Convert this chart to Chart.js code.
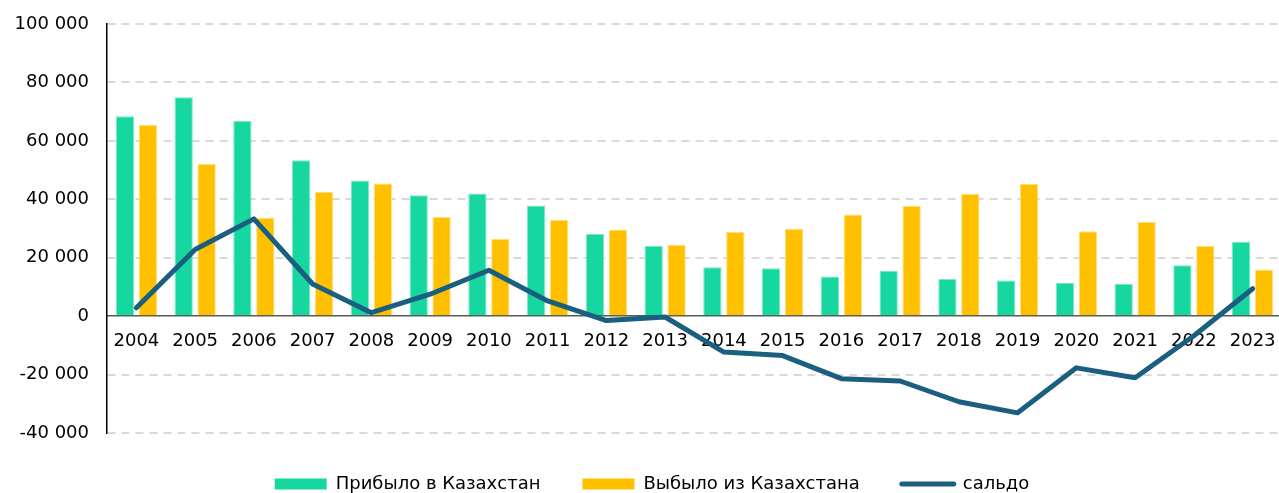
<!DOCTYPE html>
<html lang="ru">
<head>
<meta charset="utf-8">
<script src="https://cdn.jsdelivr.net/npm/chart.js@4"></script>
<style>
  html, body { margin: 0; padding: 0; background: #fff; overflow: hidden; }
  #wrap { width: 1282px; height: 503px; position: relative; }
</style>
</head>
<body>
<div id="wrap"><canvas id="migrationChart"></canvas></div>
<script>
// Годы
const years = ['2004', '2005', '2006', '2007', '2008', '2009', '2010', '2011', '2012', '2013',
               '2014', '2015', '2016', '2017', '2018', '2019', '2020', '2021', '2022', '2023'];

// Прибыло в Казахстан
const arrived = [68400, 74900, 66800, 53400, 46400, 41400, 42000, 37900, 28200, 24100,
                 16700, 16400, 13600, 15500, 12700, 12200, 11400, 11100, 17400, 25500];

// Выбыло из Казахстана
const departed = [65500, 52200, 33700, 42600, 45400, 33900, 26500, 33000, 29700, 24400,
                  28900, 29900, 34800, 37800, 41900, 45300, 29100, 32300, 24100, 16000];

// Сальдо миграции
const saldo = [2900, 22800, 33300, 11000, 1200, 7500, 15700, 5200, -1500, -300,
               -12300, -13500, -21400, -22200, -29300, -33100, -17700, -21100, -6700, 9400];

// Границы оси Y
const yMin = -40000;
const yMax = 100000;
const yStep = 20000;

const font = { family: "'DejaVu Sans', Verdana, sans-serif", size: 18 };

// Формат чисел: пробел как разделитель тысяч
function fmt(v) {
    return String(v).replace(/\B(?=(\d{3})+(?!\d))/g, ' ');
}

// Сдвиг легенды немного вправо
const legendShift = {
    id: 'legendShift',
    afterLayout: function (chart) {
        chart.legend.left += 10;
    },
};

const ctx = document.getElementById('migrationChart').getContext('2d');

const myChart = new Chart(ctx, {
    data: {
        labels: years,
        datasets: [
            {
                type: 'bar',
                label: 'Прибыло в Казахстан',
                data: arrived,
                backgroundColor: '#17d7a0',
                borderColor: '#7fe8c8',
                borderWidth: 1,
                categoryPercentage: 0.78,
                barPercentage: 0.8,
                order: 2,
            },
            {
                type: 'bar',
                label: 'Выбыло из Казахстана',
                data: departed,
                backgroundColor: '#ffc000',
                borderColor: '#ffdf80',
                borderWidth: 1,
                categoryPercentage: 0.78,
                barPercentage: 0.8,
                order: 2,
            },
            {
                type: 'line',
                label: 'сальдо',
                data: saldo,
                borderColor: '#1a5e80',
                backgroundColor: '#1a5e80',
                borderWidth: 5,
                pointRadius: 0,
                tension: 0,
                borderCapStyle: 'round',
                borderJoinStyle: 'round',
                order: 1,
            },
        ],
    },
    plugins: [legendShift],
    options: {
        responsive: true,
        maintainAspectRatio: false,
        animation: false,
        layout: {
            padding: { top: 24, left: 12, right: 0, bottom: 0 },
        },
        plugins: {
            tooltip: { enabled: false },
            legend: {
                position: 'bottom',
                labels: {
                    font: font,
                    color: '#000',
                    padding: 42,
                    usePointStyle: true,
                    pointStyleWidth: 52,
                    boxHeight: 11,
                    // легенда в порядке наборов данных
                    generateLabels: function (chart) {
                        return chart.data.datasets.map(function (ds, i) {
                            const isLine = ds.type === 'line';
                            return {
                                text: ds.label,
                                datasetIndex: i,
                                fillStyle: ds.backgroundColor,
                                strokeStyle: isLine ? ds.borderColor : ds.backgroundColor,
                                lineWidth: isLine ? 5 : 0,
                                lineCap: isLine ? 'round' : 'butt',
                                pointStyle: isLine ? 'line' : 'rect',
                                fontColor: '#000',
                                hidden: false,
                            };
                        });
                    },
                },
            },
        },
        scales: {
            x: {
                position: { y: 0 },
                grid: { display: false, drawTicks: false },
                border: { display: true, color: '#595959', width: 1.5 },
                // отступ подписей задаём через высоту строки
                ticks: {
                    font: { family: font.family, size: 18, lineHeight: 2.76 },
                    color: '#000',
                    padding: 0,
                    maxRotation: 0,
                    autoSkip: false,
                },
            },
            y: {
                min: yMin,
                max: yMax,
                grid: {
                    drawTicks: false,
                    lineWidth: 2,
                    color: function (c) {
                        return c.tick && c.tick.value === 0 ? 'rgba(0,0,0,0)' : '#d9d9d9';
                    },
                },
                border: { display: true, color: '#000', width: 1.5, dash: [8, 6] },
                ticks: {
                    stepSize: yStep,
                    font: { family: font.family, size: 18, lineHeight: 0.6 },
                    color: '#000',
                    padding: 18,
                    callback: function (v) { return fmt(v); },
                },
                // ширина оси: подписи + отступ
                afterFit: function (scale) {
                    scale.width = 95;
                },
            },
        },
    },
});
</script>
</body>
</html>
